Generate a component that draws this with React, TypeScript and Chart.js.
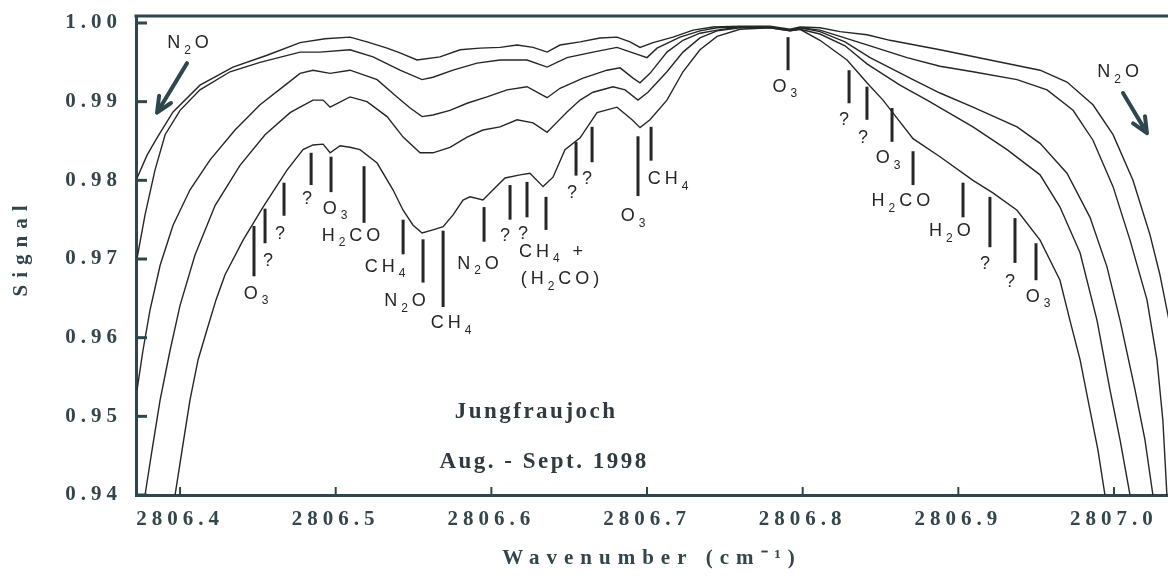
import { useEffect, useRef } from 'react';
import { Chart, registerables } from 'chart.js';

Chart.register(...registerables);

// ---------- axes ----------
const X_MIN = 2806.3717;
const X_MAX = 2807.0347;
const Y_MIN = 0.94;
const Y_MAX = 1.00089;
const X_TICKS = [2806.4, 2806.5, 2806.6, 2806.7, 2806.8, 2806.9, 2807.0];
const X_TICK_LABELS = ['2806.4', '2806.5', '2806.6', '2806.7', '2806.8', '2806.9', '2807.0'];
const Y_TICKS = [0.94, 0.95, 0.96, 0.97, 0.98, 0.99, 1.0];
const Y_TICK_LABELS = ['0.94', '0.95', '0.96', '0.97', '0.98', '0.99', '1.00'];

// ---------- spectra (wavenumber, signal) ----------
const CURVE_A = [
  [2806.3724, 0.9803], [2806.3788, 0.9832], [2806.3852, 0.9854], [2806.3955, 0.9887],
  [2806.4128, 0.9921], [2806.434, 0.9944], [2806.4559, 0.9959], [2806.4771, 0.9975],
  [2806.4931, 0.998], [2806.5092, 0.9982], [2806.5201, 0.9976], [2806.533, 0.9968],
  [2806.5413, 0.9962], [2806.5522, 0.9953], [2806.567, 0.9957], [2806.5799, 0.9966],
  [2806.5927, 0.9968], [2806.6056, 0.9969], [2806.6165, 0.9972], [2806.6268, 0.9969],
  [2806.6358, 0.9963], [2806.6441, 0.9972], [2806.657, 0.9976], [2806.6698, 0.9981],
  [2806.6807, 0.9982], [2806.6891, 0.9976], [2806.6955, 0.9969], [2806.7039, 0.9975],
  [2806.7167, 0.9982], [2806.7296, 0.9991], [2806.7424, 0.9995], [2806.7597, 0.9996],
  [2806.779, 0.9996], [2806.7919, 0.9992], [2806.7983, 0.9995], [2806.8111, 0.9994],
  [2806.824, 0.9989], [2806.8413, 0.9985], [2806.8561, 0.9978], [2806.8882, 0.9966],
  [2806.9203, 0.9953], [2806.9525, 0.994], [2806.9698, 0.9925], [2806.9865, 0.9896],
  [2806.9994, 0.9858], [2807.0122, 0.98], [2807.0231, 0.9731], [2807.0295, 0.968],
  [2807.0392, 0.9584],
];
const CURVE_B = [
  [2806.3724, 0.9701], [2806.3775, 0.9756], [2806.3839, 0.9813], [2806.3904, 0.9858],
  [2806.4, 0.9889], [2806.4128, 0.9915], [2806.4321, 0.9938], [2806.4514, 0.995],
  [2806.4771, 0.9963], [2806.4899, 0.9963], [2806.5092, 0.9966], [2806.524, 0.9957],
  [2806.5413, 0.994], [2806.5555, 0.9928], [2806.5625, 0.9931], [2806.5754, 0.994],
  [2806.5908, 0.9949], [2806.6056, 0.9953], [2806.6229, 0.9953], [2806.6358, 0.9944],
  [2806.6486, 0.9956], [2806.6653, 0.9963], [2806.6807, 0.9969], [2806.691, 0.9962],
  [2806.7, 0.9956], [2806.7064, 0.9968], [2806.7212, 0.9982], [2806.734, 0.999],
  [2806.745, 0.9994], [2806.7597, 0.9995], [2806.779, 0.9995], [2806.7919, 0.9991],
  [2806.7983, 0.9994], [2806.8111, 0.9991], [2806.824, 0.9983], [2806.8433, 0.9971],
  [2806.867, 0.9956], [2806.8882, 0.9945], [2806.9094, 0.9938], [2806.9377, 0.9928],
  [2806.957, 0.9915], [2806.9737, 0.9889], [2806.9865, 0.9851], [2806.9994, 0.9792],
  [2807.0103, 0.9724], [2807.0212, 0.9648], [2807.0276, 0.9572], [2807.0314, 0.9495],
  [2807.034, 0.94], [2807.0359, 0.9343],
];
const CURVE_C = [
  [2806.3724, 0.9534], [2806.3762, 0.9584], [2806.3807, 0.9635], [2806.3872, 0.9692],
  [2806.3955, 0.9743], [2806.4064, 0.9788], [2806.4193, 0.9826], [2806.4353, 0.9864],
  [2806.4514, 0.9896], [2806.4675, 0.9921], [2806.4771, 0.9936], [2806.4854, 0.994],
  [2806.4964, 0.9936], [2806.5092, 0.994], [2806.5266, 0.9928], [2806.5394, 0.9906],
  [2806.5478, 0.9892], [2806.5555, 0.9881], [2806.5625, 0.9883], [2806.5734, 0.9889],
  [2806.5844, 0.9898], [2806.5972, 0.9906], [2806.6101, 0.9915], [2806.6229, 0.9919],
  [2806.6358, 0.9905], [2806.6441, 0.9917], [2806.6589, 0.993], [2806.6743, 0.994],
  [2806.6827, 0.9943], [2806.691, 0.993], [2806.6955, 0.9924], [2806.7019, 0.9936],
  [2806.7128, 0.9963], [2806.7231, 0.9978], [2806.734, 0.9987], [2806.745, 0.9991],
  [2806.7597, 0.9995], [2806.779, 0.9995], [2806.7919, 0.9991], [2806.7983, 0.9994],
  [2806.8111, 0.9989], [2806.8272, 0.9976], [2806.8433, 0.9956], [2806.8709, 0.9928],
  [2806.8882, 0.9911], [2806.9094, 0.9893], [2806.9377, 0.9868], [2806.9525, 0.9847],
  [2806.9698, 0.9809], [2806.9846, 0.9753], [2806.9955, 0.969], [2807.0039, 0.9622],
  [2807.0135, 0.9534], [2807.0199, 0.947], [2807.025, 0.94], [2807.0276, 0.9355],
];
const CURVE_D = [
  [2806.3762, 0.9343], [2806.3775, 0.94], [2806.382, 0.9457], [2806.3872, 0.9521],
  [2806.3936, 0.9584], [2806.4, 0.9641], [2806.4096, 0.9705], [2806.4225, 0.9768],
  [2806.4385, 0.9819], [2806.4546, 0.9858], [2806.4707, 0.9886], [2806.4771, 0.9893],
  [2806.4854, 0.9902], [2806.4919, 0.9902], [2806.4964, 0.9893], [2806.5092, 0.9906],
  [2806.5201, 0.99], [2806.533, 0.9881], [2806.5433, 0.9855], [2806.5542, 0.9835],
  [2806.5625, 0.9835], [2806.5734, 0.9842], [2806.5844, 0.9855], [2806.5946, 0.9864],
  [2806.6056, 0.9868], [2806.6165, 0.9877], [2806.6268, 0.9873], [2806.6358, 0.9861],
  [2806.6422, 0.9874], [2806.6486, 0.9887], [2806.657, 0.9902], [2806.6653, 0.9912],
  [2806.6782, 0.9919], [2806.6859, 0.9915], [2806.6942, 0.9902], [2806.7006, 0.9912],
  [2806.7128, 0.9938], [2806.7231, 0.9963], [2806.734, 0.9981], [2806.745, 0.999],
  [2806.7597, 0.9994], [2806.779, 0.9994], [2806.7919, 0.999], [2806.7983, 0.9992],
  [2806.8111, 0.9986], [2806.8272, 0.9971], [2806.8413, 0.9948], [2806.8625, 0.9921],
  [2806.8799, 0.9902], [2806.9094, 0.9868], [2806.9313, 0.9839], [2806.9525, 0.9807],
  [2806.9653, 0.9766], [2806.9782, 0.9708], [2806.9891, 0.9622], [2806.9974, 0.9534],
  [2807.0039, 0.947], [2807.0103, 0.94], [2807.0128, 0.9355],
];
const CURVE_E = [
  [2806.3942, 0.9343], [2806.3968, 0.94], [2806.4013, 0.9457], [2806.4064, 0.9521],
  [2806.4116, 0.9572], [2806.4173, 0.961], [2806.4231, 0.9648], [2806.4289, 0.968],
  [2806.4405, 0.9724], [2806.4533, 0.9766], [2806.4687, 0.9813], [2806.479, 0.9839],
  [2806.4854, 0.9845], [2806.4919, 0.9846], [2806.4964, 0.9835], [2806.5028, 0.9844],
  [2806.5092, 0.9842], [2806.5156, 0.9839], [2806.5266, 0.9822], [2806.5368, 0.9788],
  [2806.5433, 0.9762], [2806.5497, 0.9743], [2806.5555, 0.9733], [2806.5625, 0.9737],
  [2806.569, 0.9741], [2806.5754, 0.9756], [2806.5818, 0.9775], [2806.5863, 0.9779],
  [2806.5946, 0.9775], [2806.6011, 0.9788], [2806.6088, 0.9803], [2806.6184, 0.9807],
  [2806.6248, 0.9809], [2806.6332, 0.9792], [2806.6396, 0.9804], [2806.6473, 0.9839],
  [2806.657, 0.9854], [2806.6679, 0.9886], [2806.6807, 0.9893], [2806.6904, 0.9877],
  [2806.6955, 0.9867], [2806.7019, 0.9877], [2806.7128, 0.9902], [2806.7231, 0.9938],
  [2806.734, 0.9966], [2806.745, 0.9983], [2806.7597, 0.9992], [2806.779, 0.9994],
  [2806.7919, 0.999], [2806.7983, 0.9992], [2806.8111, 0.9978], [2806.8285, 0.9953],
  [2806.8413, 0.9924], [2806.8516, 0.9902], [2806.8606, 0.9879], [2806.8709, 0.9853],
  [2806.8882, 0.983], [2806.9094, 0.98], [2806.9222, 0.9784], [2806.9377, 0.9762],
  [2806.9525, 0.9724], [2806.9653, 0.9673], [2806.9717, 0.9622], [2806.9782, 0.9572],
  [2806.9846, 0.9508], [2806.9897, 0.9457], [2806.9942, 0.94], [2806.9968, 0.9355],
];

// ---------- line assignments (bars) ----------
const BAR_X = [
  2806.4475, 2806.4546, 2806.4668, 2806.4842, 2806.497, 2806.5182, 2806.5433, 2806.5561,
  2806.569, 2806.5953, 2806.612, 2806.6229, 2806.6351, 2806.6544, 2806.6647, 2806.6942,
  2806.7026, 2806.7906, 2806.8298, 2806.8413, 2806.8574, 2806.8709, 2806.903, 2806.9203,
  2806.9364, 2806.9499,
];
const BAR_TOP = [
  0.9742, 0.9764, 0.9797, 0.9835, 0.983, 0.9818, 0.975, 0.9725, 0.9736, 0.9766, 0.9794,
  0.9798, 0.9779, 0.9849, 0.9868, 0.9856, 0.9868, 0.9982, 0.994, 0.9919, 0.9892, 0.9837,
  0.9797, 0.9779, 0.9752, 0.972,
];
const BAR_BOTTOM = [
  0.9678, 0.972, 0.9755, 0.9794, 0.9785, 0.9746, 0.9706, 0.967, 0.9639, 0.9722, 0.975,
  0.9753, 0.9737, 0.9806, 0.9823, 0.978, 0.9825, 0.994, 0.9898, 0.9877, 0.9849, 0.9794,
  0.9753, 0.9715, 0.9695, 0.9673,
];

// ---------- labels ("_n" = subscript) ----------
const LABEL_TEXT = [
  'O_3', '?', '?', '?', 'O_3', 'H_2CO', 'CH_4', 'N_2O', 'CH_4', 'N_2O', '?', '?',
  'CH_4 +', '(H_2CO)', '?', '?', 'O_3', 'CH_4', 'O_3', '?', '?', 'O_3', 'H_2CO', 'H_2O',
  '?', '?', 'O_3', 'N_2O', 'N_2O',
];
const LABEL_X = [
  2806.4501, 2806.4578, 2806.4655, 2806.4829, 2806.5009, 2806.5111, 2806.533, 2806.5458,
  2806.5754, 2806.5927, 2806.6101, 2806.6216, 2806.6396, 2806.6454, 2806.6531, 2806.6627,
  2806.6923, 2806.7148, 2806.7899, 2806.8278, 2806.84, 2806.8561, 2806.8644, 2806.8959,
  2806.9184, 2806.9345, 2806.9525, 2806.4064, 2807.0039,
];
const LABEL_Y = [
  0.9658, 0.9699, 0.9734, 0.9778, 0.9766, 0.9731, 0.9692, 0.9648, 0.962, 0.9696, 0.9731,
  0.9734, 0.9711, 0.9676, 0.9786, 0.9804, 0.9756, 0.9803, 0.9921, 0.9878, 0.9856, 0.983,
  0.9775, 0.9737, 0.9695, 0.9673, 0.9654, 0.9976, 0.9939,
];

// ---------- N2O arrows ----------
const ARROW_X1 = [2806.4045, 2807.0058];
const ARROW_Y1 = [0.9949, 0.9911];
const ARROW_X2 = [2806.3852, 2807.0212];
const ARROW_Y2 = [0.9886, 0.986];

// ---------- site note ----------
const NOTE_TEXT = ['Jungfraujoch', 'Aug. - Sept. 1998'];
const NOTE_X = [2806.6281, 2806.6332];
const NOTE_Y = [0.9506, 0.9442];

const SERIF = '"Liberation Serif", "Times New Roman", serif';
const SANS = '"Liberation Sans", Arial, sans-serif';
const AXIS_COLOR = '#2e474d';
const TEXT_COLOR = '#33464b';
const LINE_COLOR = '#262626';
const MARK_COLOR = '#262626';

function toPoints(arr: number[][]) {
  return arr.map(([x, y]) => ({ x, y }));
}

function parseRich(text: string) {
  const parts: { t: string; sub: boolean }[] = [];
  let i = 0;
  while (i < text.length) {
    if (text[i] === '_') {
      parts.push({ t: text[i + 1], sub: true });
      i += 2;
    } else {
      let j = i;
      while (j < text.length && text[j] !== '_') j++;
      parts.push({ t: text.slice(i, j), sub: false });
      i = j;
    }
  }
  return parts;
}

function drawRich(ctx: CanvasRenderingContext2D, text: string, cx: number, cy: number, size: number) {
  const parts = parseRich(text);
  const mainFont = `${size}px ${SANS}`;
  const subFont = `${Math.round(size * 0.65)}px ${SANS}`;
  let total = 0;
  const widths = parts.map((p) => {
    ctx.font = p.sub ? subFont : mainFont;
    const w = ctx.measureText(p.t).width;
    total += w;
    return w;
  });
  let x = cx - total / 2;
  const base = cy + size * 0.36;
  ctx.textAlign = 'left';
  ctx.textBaseline = 'alphabetic';
  parts.forEach((p, k) => {
    ctx.font = p.sub ? subFont : mainFont;
    ctx.fillText(p.t, x, p.sub ? base + size * 0.3 : base);
    x += widths[k];
  });
}

// draw a scale title with wider letter spacing (and an optional shift)
function spacedTitle(scale: any, spacing: string, dx: number, dy: number) {
  if (scale.__spaced) return;
  const orig = scale.drawTitle.bind(scale);
  scale.drawTitle = function () {
    const ctx = scale.ctx;
    ctx.save();
    ctx.letterSpacing = spacing;
    ctx.translate(dx, dy);
    orig();
    ctx.restore();
  };
  scale.__spaced = true;
}

export default function App() {
  const ref = useRef<HTMLCanvasElement | null>(null);

  useEffect(() => {
    document.body.style.margin = '0';
    const canvas = ref.current;
    if (!canvas) return;

    const decor = {
      id: 'decor',
      beforeDraw(chart: any) {
        (chart.ctx as any).letterSpacing = '5px';
        spacedTitle(chart.scales.x, '7px', 0, 0);
        spacedTitle(chart.scales.y, '7px', 0, -8);
      },
      afterDatasetsDraw(chart: any) {
        const ctx = chart.ctx as CanvasRenderingContext2D;
        const xs = chart.scales.x;
        const ys = chart.scales.y;
        ctx.save();
        // assignment bars
        ctx.strokeStyle = MARK_COLOR;
        ctx.lineWidth = 3;
        ctx.lineCap = 'butt';
        BAR_X.forEach((bx, i) => {
          const px = xs.getPixelForValue(bx);
          ctx.beginPath();
          ctx.moveTo(px, ys.getPixelForValue(BAR_TOP[i]));
          ctx.lineTo(px, ys.getPixelForValue(BAR_BOTTOM[i]));
          ctx.stroke();
        });
        // labels
        ctx.fillStyle = MARK_COLOR;
        (ctx as any).letterSpacing = '4px';
        LABEL_TEXT.forEach((t, i) => {
          drawRich(ctx, t, xs.getPixelForValue(LABEL_X[i]), ys.getPixelForValue(LABEL_Y[i]), 18);
        });
        // arrows
        ctx.strokeStyle = AXIS_COLOR;
        ctx.lineWidth = 4;
        ctx.lineCap = 'round';
        ctx.lineJoin = 'round';
        ARROW_X1.forEach((ax, i) => {
          const x1 = xs.getPixelForValue(ax);
          const y1 = ys.getPixelForValue(ARROW_Y1[i]);
          const x2 = xs.getPixelForValue(ARROW_X2[i]);
          const y2 = ys.getPixelForValue(ARROW_Y2[i]);
          const ang = Math.atan2(y2 - y1, x2 - x1);
          const hl = 17;
          ctx.beginPath();
          ctx.moveTo(x1, y1);
          ctx.lineTo(x2, y2);
          ctx.moveTo(x2 - hl * Math.cos(ang - 0.42), y2 - hl * Math.sin(ang - 0.42));
          ctx.lineTo(x2, y2);
          ctx.lineTo(x2 - hl * Math.cos(ang + 0.42), y2 - hl * Math.sin(ang + 0.42));
          ctx.stroke();
        });
        // site note
        ctx.fillStyle = '#2f3b3f';
        ctx.font = `bold 23px ${SERIF}`;
        (ctx as any).letterSpacing = '2.5px';
        ctx.textAlign = 'center';
        ctx.textBaseline = 'middle';
        NOTE_TEXT.forEach((t, i) => {
          ctx.fillText(t, xs.getPixelForValue(NOTE_X[i]) + 1, ys.getPixelForValue(NOTE_Y[i]));
        });
        ctx.restore();
      },
      afterDraw(chart: any) {
        const ctx = chart.ctx as CanvasRenderingContext2D;
        const { left, right, top, bottom } = chart.chartArea;
        const xs = chart.scales.x;
        const ys = chart.scales.y;
        ctx.save();
        ctx.strokeStyle = AXIS_COLOR;
        ctx.lineCap = 'butt';
        // top frame line
        ctx.lineWidth = 3;
        ctx.beginPath();
        ctx.moveTo(left - 1.5, top);
        ctx.lineTo(right, top);
        ctx.stroke();
        // inward ticks
        ctx.lineWidth = 3;
        Y_TICKS.forEach((v) => {
          const py = ys.getPixelForValue(v);
          ctx.beginPath();
          ctx.moveTo(left, py);
          ctx.lineTo(left + 11, py);
          ctx.stroke();
        });
        ctx.lineWidth = 2;
        X_TICKS.forEach((v) => {
          const px = xs.getPixelForValue(v);
          ctx.beginPath();
          ctx.moveTo(px, bottom);
          ctx.lineTo(px, bottom - 8);
          ctx.stroke();
        });
        ctx.restore();
      },
    };

    const series = [CURVE_A, CURVE_B, CURVE_C, CURVE_D, CURVE_E];

    const chart = new Chart(canvas, {
      type: 'line',
      data: {
        datasets: series.map((s) => ({
          data: toPoints(s),
          borderColor: LINE_COLOR,
          borderWidth: 1.4,
          pointRadius: 0,
          fill: false,
          tension: 0,
        })),
      },
      options: {
        animation: false,
        responsive: false,
        events: [],
        layout: { padding: { top: 16, left: 0, right: 0, bottom: 0 } },
        plugins: {
          legend: { display: false },
          tooltip: { enabled: false },
        },
        scales: {
          x: {
            type: 'linear',
            min: X_MIN,
            max: X_MAX,
            afterBuildTicks: (s: any) => {
              s.ticks = X_TICKS.map((v) => ({ value: v }));
            },
            afterFit: (s: any) => {
              s.height = 81;
              s.paddingLeft = 0;
              s.paddingRight = 0;
            },
            ticks: {
              autoSkip: false,
              maxRotation: 0,
              minRotation: 0,
              padding: 12,
              color: TEXT_COLOR,
              font: { family: SERIF, size: 21, weight: 'bold' },
              callback: (_v: any, i: number) => X_TICK_LABELS[i],
            },
            grid: { display: true, drawOnChartArea: false, drawTicks: false },
            border: { display: true, color: AXIS_COLOR, width: 3 },
            title: {
              display: true,
              text: 'Wavenumber (cm⁻¹)',
              color: TEXT_COLOR,
              font: { family: SERIF, size: 21, weight: 'bold' },
              padding: { top: 0, bottom: 5 },
            },
          },
          y: {
            type: 'linear',
            min: Y_MIN,
            max: Y_MAX,
            afterBuildTicks: (s: any) => {
              s.ticks = Y_TICKS.map((v) => ({ value: v }));
            },
            afterFit: (s: any) => {
              s.width = 136;
              s.paddingTop = 0;
              s.paddingBottom = 0;
            },
            ticks: {
              autoSkip: false,
              padding: 14,
              color: TEXT_COLOR,
              font: { family: SERIF, size: 21, weight: 'bold' },
              callback: (_v: any, i: number) => Y_TICK_LABELS[i],
            },
            grid: { display: true, drawOnChartArea: false, drawTicks: false },
            border: { display: true, color: AXIS_COLOR, width: 3 },
            title: {
              display: true,
              text: 'Signal',
              color: TEXT_COLOR,
              font: { family: SERIF, size: 21, weight: 'bold' },
              padding: { top: 9, bottom: 0 },
            },
          },
        },
      },
      plugins: [decor],
    } as any);

    return () => chart.destroy();
  }, []);

  return (
    <div style={{ width: 1168, height: 576 }}>
      <canvas ref={ref} width={1168} height={576} style={{ display: 'block' }} />
    </div>
  );
}
